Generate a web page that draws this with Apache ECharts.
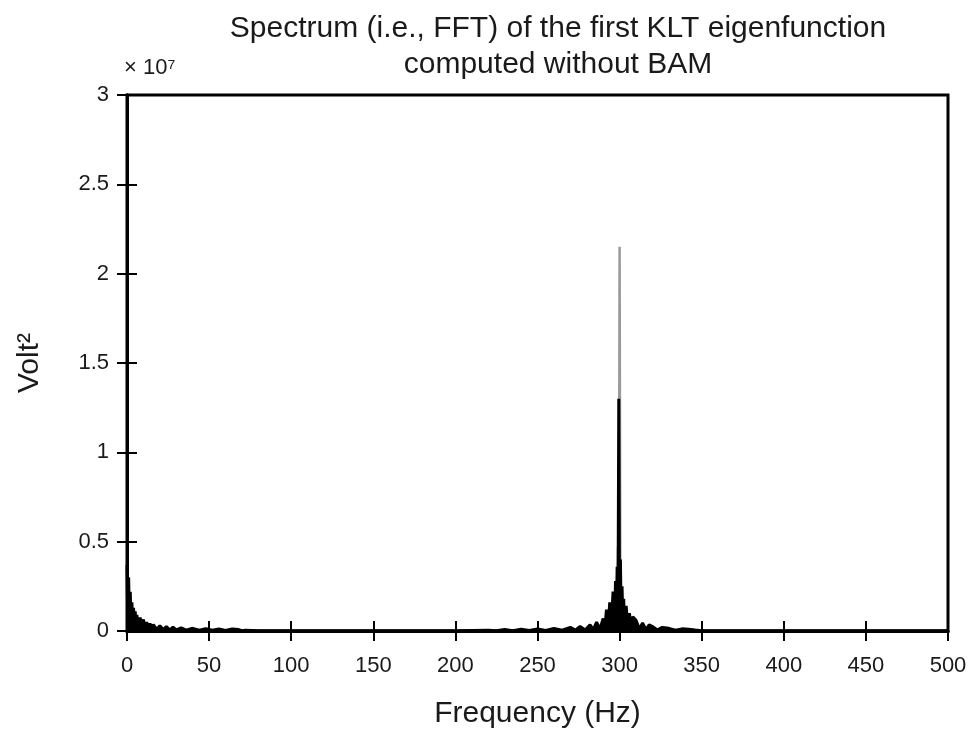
<!DOCTYPE html>
<html>
<head>
<meta charset="utf-8">
<script src="https://cdn.jsdelivr.net/npm/echarts@6/dist/echarts.min.js"></script>
<style>
  html, body { margin: 0; padding: 0; background: #fff; }
  #chart { width: 974px; height: 734px; }
</style>
</head>
<body>
<div id="chart"></div>
<script>
// spectrum values in units of 1e7 Volt^2
const specFreq = [
  0, 0.5, 1, 1.5, 2, 2.5, 3, 3.5, 4, 4.5, 5, 5.5, 6, 7, 8, 9, 10, 11, 12, 13,
  14, 15, 16, 18, 20, 22, 24, 26, 28, 30, 33, 36, 40, 44, 48, 52, 56, 60, 64, 68,
  70, 72, 80, 100, 150, 200, 220, 225, 230, 235, 240, 245, 250, 255, 260, 265,
  270, 273, 276, 279, 282, 284, 286, 288, 290, 291, 292, 293, 294, 295, 296, 297,
  297.5, 298, 298.5, 299, 299.5, 300, 300.5, 301, 301.5, 302, 302.5, 303, 304,
  305, 306, 307, 308, 310, 312, 314, 316, 318, 320, 323, 326, 330, 334, 338,
  342, 346, 350, 400, 500
]
const specPower = [
  0.37, 0.02, 0.30, 0.04, 0.22, 0.02, 0.16, 0.03, 0.13, 0.02, 0.11, 0.02, 0.09, 0.015, 0.075, 0.02, 0.065, 0.012, 0.05, 0.01,
  0.042, 0.012, 0.036, 0.01, 0.03, 0.008, 0.025, 0.006, 0.022, 0.006, 0.018, 0.005, 0.015, 0.004, 0.013, 0.004, 0.012, 0.003, 0.011, 0.008,
  0.002, 0.004, 0.001, 0.001, 0.001, 0.001, 0.004, 0.001, 0.008, 0.002, 0.01, 0.003, 0.012, 0.003, 0.014, 0.004,
  0.02, 0.005, 0.025, 0.006, 0.035, 0.008, 0.05, 0.01, 0.07, 0.015, 0.12, 0.02, 0.16, 0.03, 0.22, 0.04,
  0.28, 0.05, 0.36, 0.02, 1.30, 0.01, 0.40, 0.02, 0.25, 0.03, 0.18, 0.02, 0.14,
  0.02, 0.10, 0.015, 0.08, 0.06, 0.012, 0.045, 0.008, 0.035, 0.025, 0.006, 0.02, 0.015, 0.004, 0.012,
  0.01, 0.005, 0.001, 0.001, 0.001
]
// lighter top of the 300 Hz line
const peakFreq = [298.5, 299, 299.5, 300, 300.5]
const peakPower = [0.02, 0.47, 0.05, 2.15, 0.05]

const xTicks = [0, 500, 50]
const yTicks = [0, 3, 0.5]

const chart = echarts.init(document.getElementById('chart'))
const font = 'Liberation Sans'
const ink = '#1a1a1a'

const xBase = {
  type: 'value',
  min: xTicks[0],
  max: xTicks[1],
  interval: xTicks[2],
  splitLine: { show: false },
  axisLine: { lineStyle: { color: '#000', width: 3 } },
  axisTick: { inside: true, length: 10, lineStyle: { color: '#000', width: 2 } },
}
const yBase = {
  type: 'value',
  min: yTicks[0],
  max: yTicks[1],
  interval: yTicks[2],
  splitLine: { show: false },
  axisLine: { lineStyle: { color: '#000', width: 3 } },
  axisTick: { inside: true, length: 10, lineStyle: { color: '#000', width: 2 } },
}

const option = {
  animation: false,
  backgroundColor: '#fff',
  title: {
    text: 'Spectrum (i.e., FFT) of the first KLT eigenfunction\ncomputed without BAM',
    left: 553,
    top: 6,
    textAlign: 'center',
    textStyle: { fontFamily: font, fontSize: 30, fontWeight: 'normal', color: ink, lineHeight: 36 },
  },
  graphic: [
    {
      type: 'text',
      left: 124,
      top: 57,
      style: { text: '× 10⁷', fontFamily: font, fontSize: 22, fill: ink },
    },
  ],
  grid: { left: 127, right: 26, top: 95, bottom: 102, show: true, borderColor: '#000', borderWidth: 3 },
  xAxis: [
    Object.assign({}, xBase, {
      position: 'bottom',
      name: 'Frequency (Hz)',
      nameLocation: 'middle',
      nameGap: 68,
      nameTextStyle: { fontFamily: font, fontSize: 30, color: ink },
      axisLabel: { margin: 24, fontFamily: font, fontSize: 22, color: ink },
    }),
    Object.assign({}, xBase, { position: 'top', axisLabel: { show: false } }),
  ],
  yAxis: [
    Object.assign({}, yBase, {
      position: 'left',
      name: 'Volt²',
      nameLocation: 'middle',
      nameGap: 82,
      nameRotate: 90,
      nameTextStyle: { fontFamily: font, fontSize: 30, color: ink },
      axisLabel: { margin: 18, fontFamily: font, fontSize: 22, color: ink },
    }),
    Object.assign({}, yBase, { position: 'right', axisLabel: { show: false } }),
  ],
  series: [
    {
      type: 'line',
      data: peakFreq.map((f, i) => [f, peakPower[i]]),
      showSymbol: false,
      z: 1,
      lineStyle: { color: '#9a9a9a', width: 2.5 },
    },
    {
      type: 'line',
      data: specFreq.map((f, i) => [f, specPower[i]]),
      showSymbol: false,
      z: 2,
      lineStyle: { color: '#000', width: 3 },
      areaStyle: { color: '#000', opacity: 1 },
    },
  ],
}
chart.setOption(option)
</script>
</body>
</html>
